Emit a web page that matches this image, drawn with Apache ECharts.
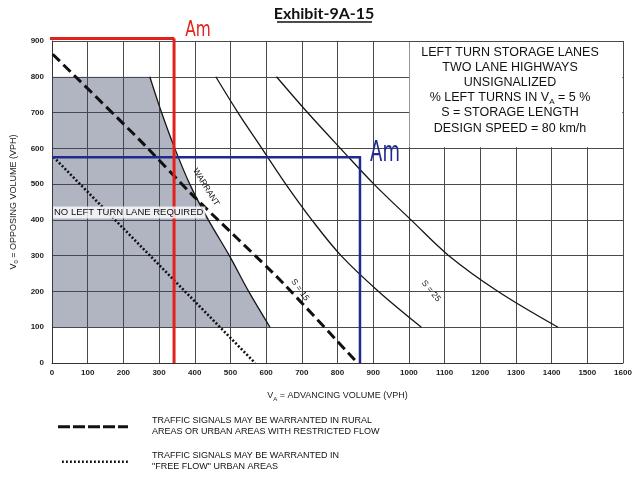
<!DOCTYPE html>
<html><head><meta charset="utf-8">
<script src="https://cdn.jsdelivr.net/npm/echarts@6/dist/echarts.min.js"></script>
<style>html,body{margin:0;padding:0;background:#fff}#c{width:635px;height:478px}</style>
</head><body><div id="c"></div>
<script>
// ---- data ----
const xTickLabels = ['0','100','200','300','400','500','600','700','800','900','1000','1100','1200','1300','1400','1500','1600'];
const yTickLabels = ['0','100','200','300','400','500','600','700','800','900'];
// shaded "no left turn lane required" region: boundary curve
const boundaryY = [800, 700, 600, 500, 400, 300, 200, 100];
const boundaryX = [274, 307, 344, 386, 438, 497, 551, 611];
// storage length curves
const s15Y = [800, 700, 600, 500, 400, 300, 200, 100];
const s15X = [459, 521, 588, 655, 728, 810, 915, 1035];
const s25Y = [800, 700, 600, 500, 400, 300, 200, 100];
const s25X = [629, 716, 808, 902, 1006, 1112, 1250, 1418];
// traffic signal warrant lines
const dashedX = [2, 246, 401, 639, 856];
const dashedY = [863, 623, 462, 232, 0];
const dottedX = [4, 569];
const dottedY = [576, 0];
// hand-drawn annotations
const redHX = [-11, 343];  const redHY = [907, 907];
const redVX = [342, 342];  const redVY = [907, 0];
const blueHX = [0, 866];   const blueHY = [575, 575];
const blueVX = [863, 863]; const blueVY = [575, 0];
// text box area
const boxX = [1000, 1600]; const boxY = [600, 900];

const zip = (xs, ys) => xs.map((x, i) => [x, ys[i]]);
const shadePoly = [[0, boundaryY[0]]].concat(zip(boundaryX, boundaryY)).concat([[0, boundaryY[boundaryY.length - 1]]]);

const FONT = 'Liberation Sans, Arial, sans-serif';
const chart = echarts.init(document.getElementById('c'), null, {renderer: 'canvas'});
const blackLine = (xs, ys, extra) => Object.assign({
  type: 'line', data: zip(xs, ys), symbol: 'none', silent: true, z: 4, smooth: 0.35,
  lineStyle: {color: '#161616', width: 1.3}
}, extra || {});

chart.setOption({
  animation: false,
  backgroundColor: '#fff',
  grid: {left: 52, right: 12, top: 41, bottom: 115},
  xAxis: {
    type: 'value', min: 0, max: 1600, interval: 100,
    axisLine: {show: true, lineStyle: {color: '#333', width: 1}},
    axisTick: {show: false},
    splitLine: {show: true, lineStyle: {color: '#4a4a4a', width: 1}},
    axisLabel: {fontSize: 8, fontWeight: 'bold', color: '#222', fontFamily: FONT, margin: 6,
      formatter: (v) => xTickLabels[Math.round(v / 100)]},
    name: '{v|V}{s|A}{v| = ADVANCING VOLUME (VPH)}', nameLocation: 'middle', nameGap: 27,
    nameTextStyle: {rich: {v: {fontSize: 9, fontFamily: FONT, color: '#222', lineHeight: 12},
                           s: {fontSize: 6, fontFamily: FONT, color: '#222', lineHeight: 12, verticalAlign: 'bottom'}}}
  },
  yAxis: {
    type: 'value', min: 0, max: 900, interval: 100,
    axisLine: {show: true, lineStyle: {color: '#333', width: 1}},
    axisTick: {show: false},
    splitLine: {show: true, lineStyle: {color: '#4a4a4a', width: 1}},
    axisLabel: {fontSize: 8, fontWeight: 'bold', color: '#222', fontFamily: FONT, margin: 8,
      formatter: (v) => yTickLabels[Math.round(v / 100)]},
    name: '{v|V}{s|0}{v| = OPPOSING VOLUME (VPH)}', nameLocation: 'middle', nameGap: 29, nameRotate: 90,
    nameTextStyle: {rich: {v: {fontSize: 9, fontFamily: FONT, color: '#222', lineHeight: 12},
                           s: {fontSize: 6, fontFamily: FONT, color: '#222', lineHeight: 12, verticalAlign: 'bottom'}}}
  },
  series: [
    {
      type: 'custom', coordinateSystem: 'cartesian2d', data: [0], silent: true, z: 1,
      renderItem: (params, api) => {
        const pts = [api.coord(shadePoly[0])];
        // follow the smoothed boundary closely by sampling a Catmull-Rom style spline through the points
        const curve = zip(boundaryX, boundaryY).map(p => api.coord(p));
        for (let i = 0; i < curve.length - 1; i++) {
          const p0 = curve[Math.max(i - 1, 0)], p1 = curve[i], p2 = curve[i + 1], p3 = curve[Math.min(i + 2, curve.length - 1)];
          for (let t = 0; t < 1; t += 0.1) {
            const t2 = t * t, t3 = t2 * t;
            pts.push([0, 1].map(k => 0.5 * ((2 * p1[k]) + (-p0[k] + p2[k]) * t + (2 * p0[k] - 5 * p1[k] + 4 * p2[k] - p3[k]) * t2 + (-p0[k] + 3 * p1[k] - 3 * p2[k] + p3[k]) * t3)));
          }
        }
        pts.push(curve[curve.length - 1]);
        pts.push(api.coord(shadePoly[shadePoly.length - 1]));
        return {type: 'polygon', shape: {points: pts}, style: {fill: 'rgba(60,68,100,0.4)'}};
      }
    },
    {
      type: 'line', data: [], silent: true, z: 2,
      markArea: {silent: true, itemStyle: {color: '#fff'},
        data: [[{coord: [boxX[0] + 2, boxY[0] + 3]}, {coord: [boxX[1] - 2, boxY[1] - 3]}]]}
    },
    blackLine(boundaryX, boundaryY),
    blackLine(s15X, s15Y),
    blackLine(s25X, s25Y),
    blackLine(dashedX, dashedY, {smooth: 0.2, lineStyle: {color: '#111', width: 3, type: [10, 5]}}),
    blackLine(dottedX, dottedY, {smooth: false, lineStyle: {color: '#111', width: 2.6, type: [2, 2]}}),
    blackLine(blueHX, blueHY, {smooth: false, z: 6, lineStyle: {color: '#1f2a8c', width: 2.5}}),
    blackLine(blueVX, blueVY, {smooth: false, z: 6, lineStyle: {color: '#1f2a8c', width: 2.5}}),
    blackLine(redHX, redHY, {smooth: false, z: 7, clip: false, lineStyle: {color: '#e3201b', width: 3}}),
    blackLine(redVX, redVY, {smooth: false, z: 7, clip: false, lineStyle: {color: '#e3201b', width: 3}})
  ],
  graphic: [
    {type: 'text', x: 324, y: 13.5, z: 10, style: {text: 'Exhibit-9A-15', font: 'bold 16px Lato, sans-serif', fill: '#111', align: 'center', verticalAlign: 'middle'}},
    {type: 'line', z: 10, shape: {x1: 277, y1: 22, x2: 372, y2: 22}, style: {stroke: '#111', lineWidth: 1.3}},
    {type: 'text', x: 510, y: 45, z: 10, style: {
      text: ['{a|LEFT TURN STORAGE LANES}', '{a|TWO LANE HIGHWAYS}', '{a|UNSIGNALIZED}',
             '{a|% LEFT TURNS IN V}{b|A}{a| = 5 %}', '{a|S = STORAGE LENGTH}', '{a|DESIGN SPEED = 80 km/h}'].join('\n'),
      align: 'center', verticalAlign: 'top',
      rich: {a: {fontSize: 12.5, fontFamily: FONT, fill: '#111', lineHeight: 15.1},
             b: {fontSize: 8, fontFamily: FONT, fill: '#111', lineHeight: 15.1, verticalAlign: 'bottom'}}}},
    {type: 'text', x: 53, y: 212.5, z: 10, style: {text: 'NO LEFT TURN LANE REQUIRED', fontSize: 9.5, fontFamily: FONT, fill: '#111',
      align: 'left', verticalAlign: 'middle', backgroundColor: 'rgba(255,255,255,0.8)', padding: [1, 2, 1, 1]}},
    {type: 'text', x: 206, y: 187, z: 10, rotation: -58 * Math.PI / 180, style: {text: 'WARRANT', fontSize: 8.5, fontFamily: FONT, fill: '#111', align: 'center', verticalAlign: 'middle'}},
    {type: 'text', x: 300, y: 290, z: 10, rotation: -54 * Math.PI / 180, style: {text: 'S = 15', fontSize: 8.5, fontFamily: FONT, fill: '#111', align: 'center', verticalAlign: 'middle'}},
    {type: 'text', x: 431, y: 291, z: 10, rotation: -50 * Math.PI / 180, style: {text: 'S = 25', fontSize: 8.5, fontFamily: FONT, fill: '#111', align: 'center', verticalAlign: 'middle'}},
    {type: 'text', x: 198, y: 30, z: 10, scaleX: 0.7, style: {text: 'Am', font: '22px DejaVu Sans, sans-serif', fill: '#e3201b', align: 'center', verticalAlign: 'middle'}},
    {type: 'text', x: 385, y: 153, z: 10, scaleX: 0.62, style: {text: 'Am', font: '29px DejaVu Sans, sans-serif', fill: '#1f2a8c', align: 'center', verticalAlign: 'middle'}},
    {type: 'line', z: 10, shape: {x1: 58, y1: 426.7, x2: 128, y2: 426.7}, style: {stroke: '#111', lineWidth: 3, lineDash: [12, 3]}},
    {type: 'line', z: 10, shape: {x1: 62, y1: 461.7, x2: 128, y2: 461.7}, style: {stroke: '#111', lineWidth: 2.4, lineDash: [1.8, 2.2]}},
    {type: 'text', x: 152, y: 426.5, z: 10, style: {text: 'TRAFFIC SIGNALS MAY BE WARRANTED IN RURAL\nAREAS OR URBAN AREAS WITH RESTRICTED FLOW',
      fontSize: 9, fontFamily: FONT, fill: '#111', lineHeight: 11, align: 'left', verticalAlign: 'middle'}},
    {type: 'text', x: 152, y: 461.5, z: 10, style: {text: 'TRAFFIC SIGNALS MAY BE WARRANTED IN\n"FREE FLOW" URBAN AREAS',
      fontSize: 9, fontFamily: FONT, fill: '#111', lineHeight: 11, align: 'left', verticalAlign: 'middle'}}
  ]
});
</script>
</body></html>
